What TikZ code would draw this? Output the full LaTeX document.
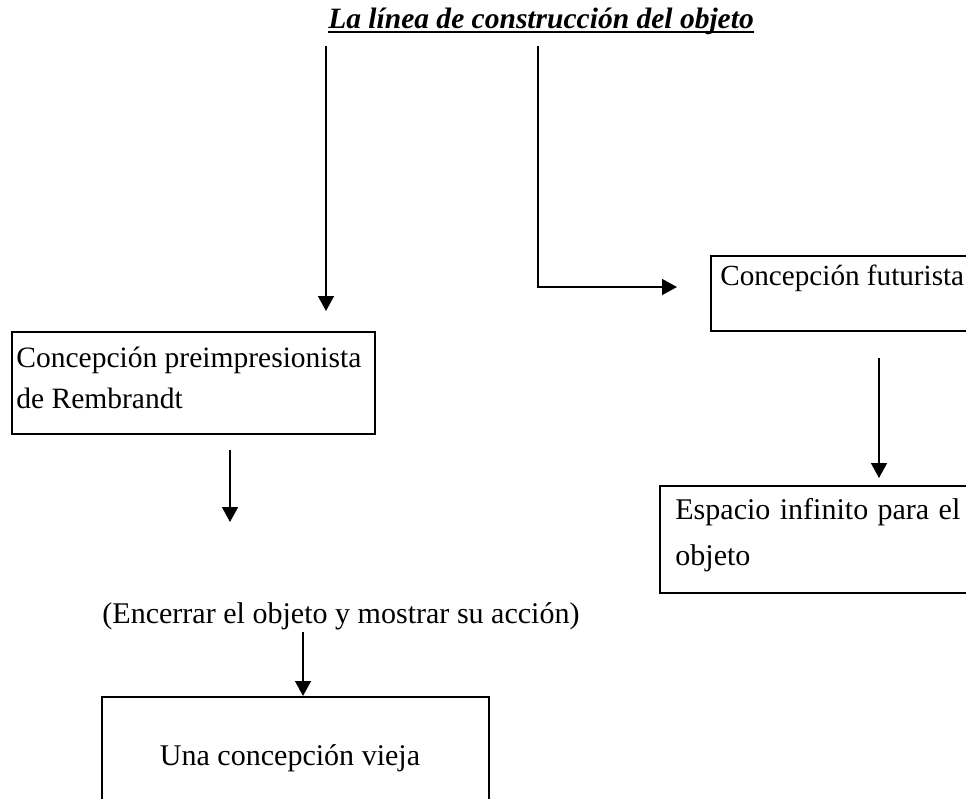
\documentclass[tikz,border=0pt]{standalone}
\usepackage{fontspec}
\setmainfont{Liberation Serif}
\usetikzlibrary{arrows.meta,fit}

\begin{document}
\begin{tikzpicture}[x=0.02cm, y=-0.02cm,
  box/.style={draw, line width=1.2pt, inner sep=0pt},
  lbl/.style={inner sep=0pt, anchor=base west, align=left},
  arr/.style={-{Triangle[length=8.5pt, width=9pt]}, line width=1.1pt},
  every node/.style={font=\fontsize{17.1pt}{23.3pt}\selectfont}]
  \useasboundingbox (0,0) rectangle (966,798);
  \clip (0,0) rectangle (966,798);

  %% Title
  \node[inner sep=0pt, anchor=base, font=\fontsize{16.8pt}{23.3pt}\selectfont\bfseries\itshape] (title) at (541,28) {La línea de construcción del objeto};
  \draw[line width=1.1pt] ([yshift=-2.3pt]title.base west) -- ([yshift=-2.3pt]title.base east);

  %% Boxes
  \node[box, fit={(12,332) (375,434)}] (pre) {};
  \node[box, fit={(711,256) (990,331)}] (fut) {};
  \node[box, fit={(660,486) (990,593)}] (esp) {};
  \node[box, fit={(102,697) (489,830)}] (vieja) {};

  %% Box texts
  \node[lbl, font=\fontsize{16.8pt}{23.3pt}\selectfont] (pretxt) at (16,408) {Concepción preimpresionista\\de Rembrandt};
  \node[lbl, font=\fontsize{16.6pt}{23.3pt}\selectfont] (futtxt) at (720,285) {Concepción futurista};
  \node[lbl, text width=5.7cm, align=justify, font=\fontsize{17.1pt}{26.2pt}\selectfont] (esptxt) at (675,519) {Espacio infinito para el objeto};
  \node[inner sep=0pt, anchor=base] (accion) at (341,623) {(Encerrar el objeto y mostrar su acción)};
  \node[inner sep=0pt, anchor=base] (viejatxt) at (290,765) {Una concepción vieja};

  %% Arrow end points
  \coordinate (lstart) at (326,46);
  \coordinate (lend) at (326,311);
  \coordinate (rstart) at (538,46);
  \coordinate (rend) at (677,287);
  \coordinate (fstart) at (879,358);
  \coordinate (fend) at (879,478);
  \coordinate (pstart) at (230,450);
  \coordinate (pend) at (230,522);
  \coordinate (astart) at (303,632);

  %% Arrows
  \draw[arr] (lstart) -- (lend);
  \draw[arr] (rstart) |- (rend);
  \draw[arr] (fstart) -- (fend);
  \draw[arr] (pstart) -- (pend);
  \draw[arr] (astart) -- (astart |- vieja.north);
\end{tikzpicture}
\end{document}
